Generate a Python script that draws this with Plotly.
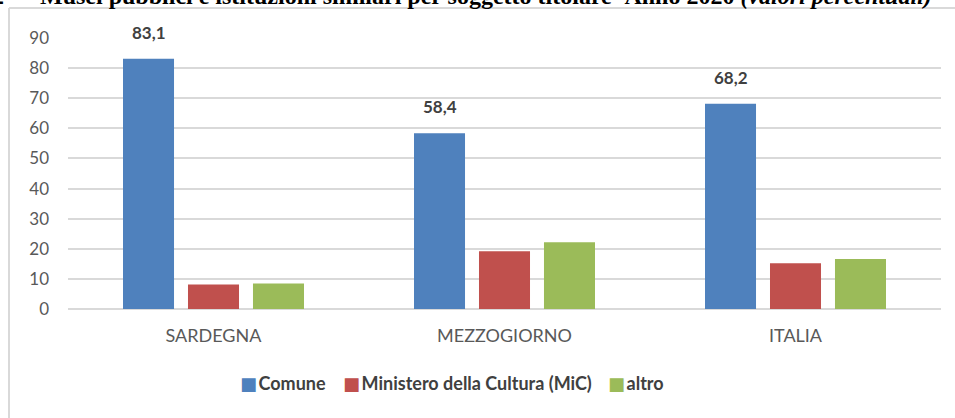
import plotly.graph_objects as go

categories = ["SARDEGNA", "MEZZOGIORNO", "ITALIA"]
comune = [83.1, 58.4, 68.2]
mic = [8.1, 19.2, 15.2]
altro = [8.5, 22.2, 16.6]
series_names = ["Comune", "Ministero della Cultura (MiC)", "altro"]
colors = ["#4f81bd", "#c0504d", "#9bbb59"]
y_ticks = [0, 10, 20, 30, 40, 50, 60, 70, 80, 90]
title_text = "Musei pubblici e istituzioni similari per soggetto titolare- Anno 2020 <i>(valori percentuali)</i>"

W, H = 955, 418
ML, MR, MT, MB = 68, 14, 38, 109
PW = W - ML - MR
PH = H - MT - MB
BARGAP = 0.33
BARGROUPGAP = 0.215
FONT = "Lato, Open Sans, sans-serif"

fig = go.Figure()
for name, vals, col in zip(series_names, [comune, mic, altro], colors):
    fig.add_trace(go.Bar(
        x=categories, y=vals, name=name,
        marker=dict(color=col, line=dict(width=0)),
        hoverinfo="skip", showlegend=False,
    ))

# data labels for Comune
slot_px = PW / len(categories) * (1 - BARGAP) / 3
for c, v in zip(categories, comune):
    fig.add_annotation(
        x=c, y=v, text=f"<b>{v:.1f}".replace(".", ",") + "</b>",
        showarrow=False, xref="x", yref="y", yanchor="bottom",
        xshift=-slot_px, yshift=14,
        font=dict(family=FONT, size=17, color="#404040"),
    )

def px_to_paper_x(px):
    return (px - ML) / PW

def px_to_paper_y(py):
    return (H - MB - py) / PH

# cut-off title at top
fig.add_annotation(
    x=px_to_paper_x(38), y=px_to_paper_y(11), xref="paper", yref="paper",
    xanchor="left", yanchor="bottom", showarrow=False, text="<b>" + title_text + "</b>",
    font=dict(family="Liberation Serif, serif", size=24, color="#000000"),
)
fig.add_annotation(
    x=px_to_paper_x(6), y=px_to_paper_y(11), xref="paper", yref="paper",
    xanchor="right", yanchor="bottom", showarrow=False, text="<b>2</b>",
    font=dict(family="Liberation Serif, serif", size=24, color="#000000"),
)

# legend built from series names and colours
legend_x_px = [238, 341, 606]
for name, col, lx in zip(series_names, colors, legend_x_px):
    fig.add_annotation(
        x=px_to_paper_x(lx), y=px_to_paper_y(383), xref="paper", yref="paper",
        xanchor="left", yanchor="middle", showarrow=False,
        text=f"<span style='color:{col};font-size:18px;font-family:DejaVu Sans'>■</span><span style='font-size:6px'> </span><b>{name}</b>",
        font=dict(family=FONT, size=18, color="#404040"),
    )

# chart frame lines
frame = dict(color="#d9d9d9", width=2)
fig.add_shape(type="line", xref="paper", yref="paper",
              x0=px_to_paper_x(9), x1=px_to_paper_x(9),
              y0=px_to_paper_y(8), y1=px_to_paper_y(420), line=frame)
fig.add_shape(type="line", xref="paper", yref="paper",
              x0=px_to_paper_x(9), x1=px_to_paper_x(960),
              y0=px_to_paper_y(8), y1=px_to_paper_y(8), line=frame)

fig.update_layout(
    width=W, height=H,
    margin=dict(l=ML, r=MR, t=MT, b=MB, pad=0),
    paper_bgcolor="white", plot_bgcolor="white",
    barmode="group", bargap=BARGAP, bargroupgap=BARGROUPGAP,
    font=dict(family=FONT, color="#595959"),
    showlegend=False,
    xaxis=dict(
        showgrid=False, showline=False, zeroline=False, ticks="",
        tickfont=dict(size=18, color="#595959"), ticklabelstandoff=14,
    ),
    yaxis=dict(
        range=[0, 90], tickvals=y_ticks, showgrid=True, gridcolor="#d9d9d9", gridwidth=2,
        zeroline=True, zerolinecolor="#d9d9d9", zerolinewidth=2, showline=False, ticks="",
        tickfont=dict(size=17, color="#595959"), ticklabelstandoff=18,
    ),
)

fig.write_html("out.html", config={"displayModeBar": False},
               post_script="document.body.style.margin='0';")
